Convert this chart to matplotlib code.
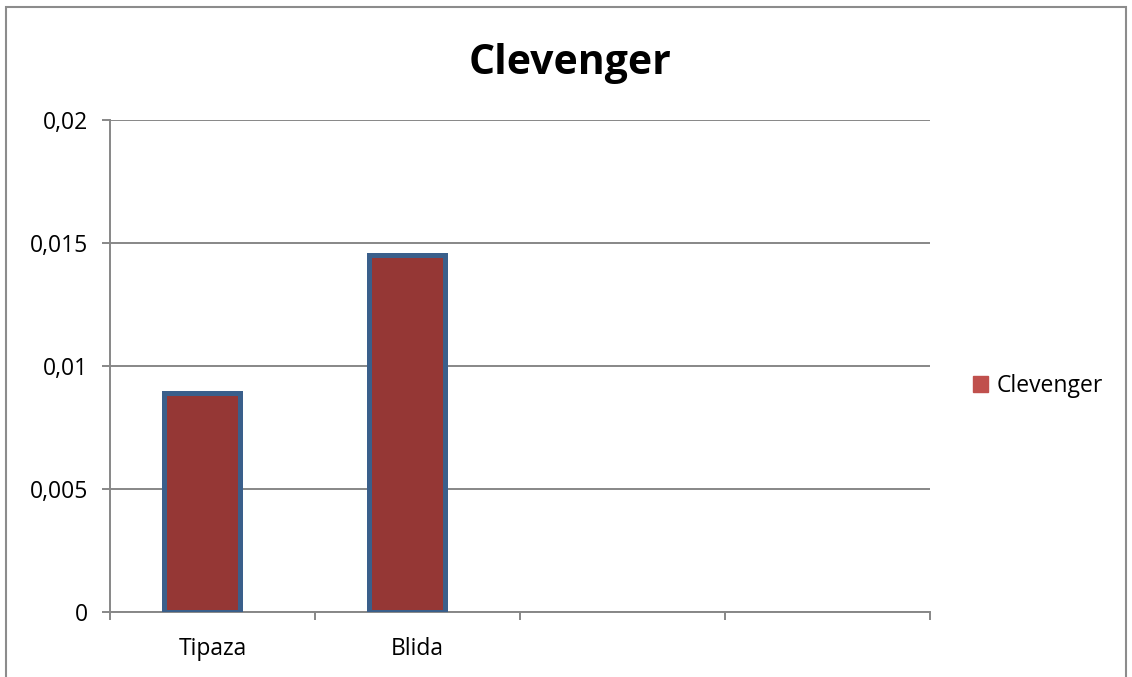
import matplotlib
matplotlib.use("Agg")
import matplotlib.pyplot as plt
import matplotlib.patches as mpatches
import numpy as np

# Data
categories = ["Tipaza", "Blida", "", ""]
values = [0.0089, 0.01452]
series_name = "Clevenger"
y_ticks = [0, 0.005, 0.01, 0.015, 0.02]
y_tick_labels = ["0", "0,005", "0,01", "0,015", "0,02"]

plt.rcParams['font.family'] = ['Open Sans', 'DejaVu Sans']

W, H = 1132, 677
fig = plt.figure(figsize=(W / 100, H / 100), dpi=100)
ax = fig.add_axes([110 / W, 1 - 612 / H, 820 / W, (612 - 120) / H])

grid_col = "#878787"
fs = 16.5

# Bars (in category slots 0..3), drawn slightly left of the slot centre like the original
x = np.arange(len(values)) - 0.05
ax.bar(x, values, width=0.37, color="#953735", edgecolor="#3A5F8B",
       linewidth=3.6, zorder=3)

ax.set_xlim(-0.5, len(categories) - 0.5)
ax.set_ylim(0, 0.02)

ax.set_yticks(y_ticks)
ax.set_yticklabels(y_tick_labels, fontsize=fs)
ax.yaxis.grid(True, color=grid_col, linewidth=1.4, zorder=0)

# category boundaries as x ticks, labels at centers
ax.set_xticks(np.arange(len(categories) + 1) - 0.5)
ax.set_xticklabels([])
ax.set_xticks(np.arange(len(categories)), minor=True)
ax.set_xticklabels(categories, minor=True, fontsize=fs)
ax.tick_params(axis="x", which="minor", length=0, pad=18)
ax.tick_params(axis="x", which="major", length=6, width=1.4, color=grid_col)
ax.tick_params(axis="y", length=6, width=1.4, color=grid_col, pad=10)

for s in ["top", "right"]:
    ax.spines[s].set_visible(False)
for s in ["left", "bottom"]:
    ax.spines[s].set_color(grid_col)
    ax.spines[s].set_linewidth(1.4)

fig.text(570 / W, 1 - 64 / H, series_name, fontsize=29.5, fontweight="bold",
         ha="center", va="center")

# Legend
handle = mpatches.Patch(color="#C0504D", label=series_name)
ax.legend(handles=[handle], loc="center left", bbox_to_anchor=(973 / W, 1 - 386 / H),
          bbox_transform=fig.transFigure, frameon=False, fontsize=fs,
          handlelength=0.65, handleheight=0.65, handletextpad=0.4,
          borderpad=0, borderaxespad=0)

# Outer chart frame
frame = mpatches.Rectangle((6 / W, -0.05), (1126 - 6) / W, 1.05 - 7 / H,
                           transform=fig.transFigure, fill=False,
                           edgecolor="#8C8C8C", linewidth=1.5)
fig.patches.append(frame)

fig.savefig("out.png", dpi=100)
